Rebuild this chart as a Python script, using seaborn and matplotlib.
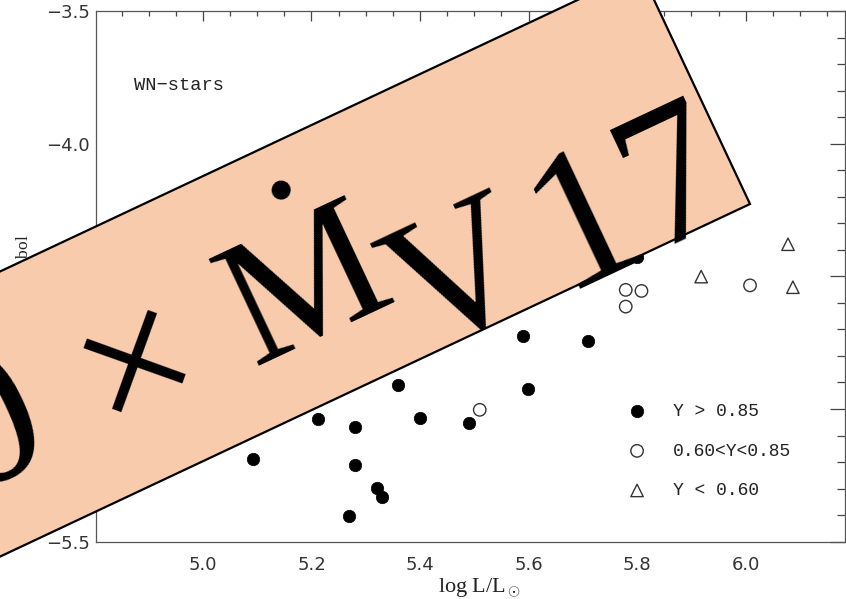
import numpy as np
import pandas as pd
import matplotlib
matplotlib.use("Agg")
import matplotlib.pyplot as plt
import seaborn as sns
from matplotlib.patches import Polygon
from matplotlib.ticker import MultipleLocator

# ---- data ----
hi_logL = [5.589, 5.709, 5.360, 5.599, 5.212, 5.281, 5.400, 5.490, 5.281, 5.320, 5.330, 5.270, 5.092, 5.799]
hi_mbol = [-4.723, -4.745, -4.909, -4.923, -5.039, -5.069, -5.034, -5.054, -5.211, -5.296, -5.331, -5.402, -5.189, -4.426]
mid_logL = [5.779, 5.808, 5.779, 6.008, 5.510]
mid_mbol = [-4.551, -4.555, -4.614, -4.534, -5.003]
lo_logL = [5.918, 6.078, 6.087]
lo_mbol = [-4.501, -4.379, -4.541]
labels = ["Y > 0.85", "0.60<Y<0.85", "Y < 0.60"]

sns.set_style("white")
plt.rcParams["font.family"] = ["DejaVu Sans"]
plt.rcParams["mathtext.fontset"] = "custom"
plt.rcParams["mathtext.rm"] = "Liberation Serif"
plt.rcParams["mathtext.it"] = "Liberation Serif:italic"

W, H = 846, 599
fig = plt.figure(figsize=(W / 100, H / 100), dpi=100)
fig.patch.set_facecolor("white")
axL, axR, axT, axB = 96, 845, 11, 541.7
ax = fig.add_axes([axL / W, 1 - axB / H, (axR - axL) / W, (axB - axT) / H])

df_hi = pd.DataFrame({"logL": hi_logL, "Mbol": hi_mbol})
df_mid = pd.DataFrame({"logL": mid_logL, "Mbol": mid_mbol})
df_lo = pd.DataFrame({"logL": lo_logL, "Mbol": lo_mbol})

sns.scatterplot(data=df_hi, x="logL", y="Mbol", ax=ax, marker="o", s=80,
                facecolor="black", edgecolor="black", linewidth=0.5, label=labels[0])
sns.scatterplot(data=df_mid, x="logL", y="Mbol", ax=ax, marker="o", s=80,
                facecolor="none", edgecolor="#333333", linewidth=1.0, label=labels[1])
sns.scatterplot(data=df_lo, x="logL", y="Mbol", ax=ax, marker="^", s=80,
                facecolor="none", edgecolor="#333333", linewidth=1.0, label=labels[2])

ax.set_xlim(4.803, 6.183)
ax.set_ylim(-5.5, -3.5)

ax.xaxis.set_major_locator(MultipleLocator(0.2))
ax.xaxis.set_minor_locator(MultipleLocator(0.05))
ax.yaxis.set_major_locator(MultipleLocator(0.5))
ax.yaxis.set_minor_locator(MultipleLocator(0.1))
ax.tick_params(which="both", direction="in", top=True, right=True,
               color="#444444", width=0.9, labelcolor="#333333", labelsize=13)
ax.tick_params(axis="x", which="major", length=7.2, pad=10)
ax.tick_params(axis="x", which="minor", length=3.6)
ax.tick_params(axis="y", which="major", length=10.8, pad=4.3)
ax.tick_params(axis="y", which="minor", length=5.8)
for sp in ax.spines.values():
    sp.set_color("#555555")
    sp.set_linewidth(0.9)

ax.set_xlabel("log L/L$_\\odot$", family="Liberation Serif", fontsize=16,
              color="#222222")
ax.xaxis.set_label_coords((480 - axL) / (axR - axL), (axB - 576) / (axB - axT))
ax.set_ylabel("M $_{\\rm bol}$", fontsize=18, color="#222222")
ax.yaxis.set_label_coords((31 - axL) / (axR - axL), (axB - 261) / (axB - axT))

ax.text((134 - axL) / (axR - axL), (axB - 85) / (axB - axT), "WN\u2212stars",
        transform=ax.transAxes, family="Liberation Mono", fontsize=13.5,
        color="#222222", va="center", ha="left")

leg = ax.legend(loc="upper left", bbox_to_anchor=((619 - axL) / (axR - axL), (axB - 394) / (axB - axT)),
                frameon=False, borderpad=0, handlelength=1.0, handletextpad=1.5,
                labelspacing=1.25, scatterpoints=1,
                prop={"family": "Liberation Mono", "size": 13})
for t in leg.get_texts():
    t.set_color("#222222")

# ---- rotated overlay banner ----
theta = 25.18
th = np.deg2rad(theta)
u = np.array([np.cos(th), -np.sin(th)])
n = np.array([-np.sin(th), -np.cos(th)])
BR = np.array([750.0, 204.0])
TR = BR + 258 * n
BL = BR - 1500 * u
TL = BL + 258 * n

def fpt(p):
    return (p[0] / W, 1 - p[1] / H)

poly = Polygon([fpt(BL), fpt(BR), fpt(TR), fpt(TL)], closed=True,
               transform=fig.transFigure, facecolor="#F7CBAC", edgecolor="black",
               linewidth=1.6, zorder=5)
fig.add_artist(poly)

fam = "Liberation Serif"
banner = [
    ("0", (11, 473), 144),
    ("\u00d7", (161.5, 415.5), 144),
    ("$\\dot{\\mathrm{M}}$", (325, 336), 130),
    ("V", (482, 326), 136),
    ("17", (653, 246), 144),
]
for s, p, fs in banner:
    a = fpt(p)
    fig.text(a[0], a[1], s, family=fam, fontsize=fs, rotation=theta,
             rotation_mode="anchor", ha="center", va="baseline", color="black", zorder=6)

fig.savefig("out.png", dpi=100)
